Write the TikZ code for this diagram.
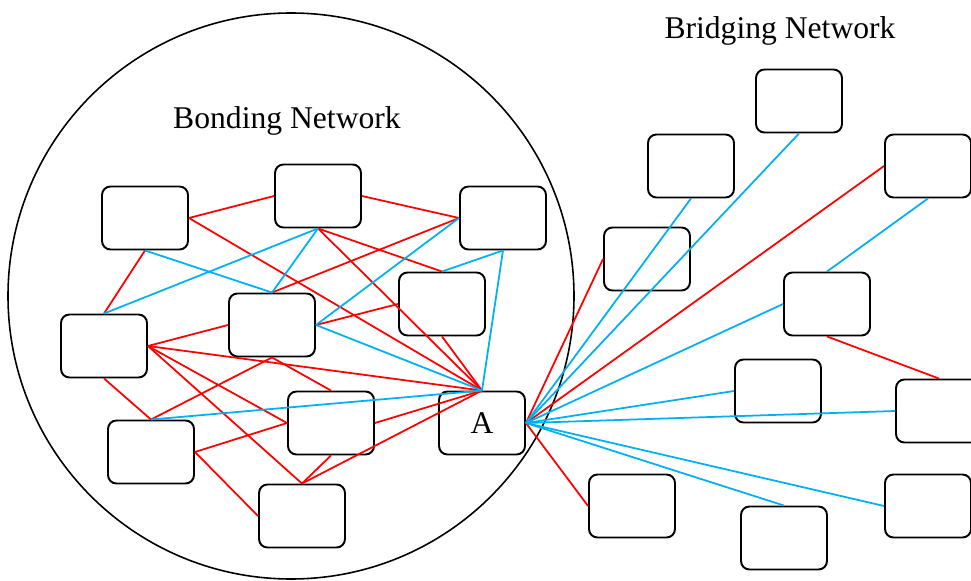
\documentclass[tikz,border=0pt]{standalone}
\usepackage{fontspec}
\setmainfont{Liberation Serif}
\usepackage{tikz}
\usetikzlibrary{positioning,calc}
\usepackage{xcolor}
\definecolor{bondred}{HTML}{FF0000}
\definecolor{bridgeblue}{HTML}{00B0F0}

\begin{document}
\begin{tikzpicture}[x=0.02cm, y=-0.02cm,
    person/.style={draw, line width=1.1pt, rounded corners=0.17cm, minimum width=1.72cm, minimum height=1.26cm, inner sep=0pt, font=\fontsize{18}{20}\selectfont},
    bond/.style={draw=bondred, line width=1pt},
    bridge/.style={draw=bridgeblue, line width=1pt},
    title/.style={font=\fontsize{18}{20}\selectfont}]
  \useasboundingbox (0,0) rectangle (971,581);
  \draw[line width=0.9pt] (291,296) circle (283);
  \node[title] (bondlabel) at (287,121) {Bonding Network};
  \node[title] (bridgelabel) at (780,31) {Bridging Network};
  % bonding network
  \node[person] (b1) at (145,218) {};
  \node[person] (b2) at (318,196) {};
  \node[person] (b3) at (503,218) {};
  \node[person] (b4) at (272,325) {};
  \node[person] (b5) at (442,304) {};
  \node[person] (b6) at (104,346) {};
  \node[person] (b7) at (151,452) {};
  \node[person] (b8) at (331,423) {};
  \node[person] (b9) at (302,516) {};
  \node[person] (a) at (482,423) {A};
  % bridging network
  \node[person] (r1) at (799,101) {};
  \node[person] (r2) at (691,166) {};
  \node[person] (r3) at (928,166) {};
  \node[person] (r4) at (647,259) {};
  \node[person] (r5) at (827,304) {};
  \node[person] (r6) at (778,391) {};
  \node[person] (r7) at (939,411) {};
  \node[person] (r8) at (632,506) {};
  \node[person] (r9) at (784,538) {};
  \node[person] (r10) at (928,506) {};
  % strong ties
  \draw[bond] (b1.east) -- (b2.west);
  \draw[bond] (b1.east) -- (a.north);
  \draw[bond] (b1.south) -- (b6.north);
  \draw[bond] (b2.east) -- (b3.west);
  \draw[bond] (b2.south) -- (b5.north);
  \draw[bond] (b2.south) -- (a.north);
  \draw[bond] (b4.north) -- (b3.west);
  \draw[bond] (b4.east) -- (b5.west);
  \draw[bond] (b5.south) -- (a.north);
  \draw[bond] (b6.east) -- (b4.west);
  \draw[bond] (b6.east) -- (a.north);
  \draw[bond] (b6.east) -- (b8.west);
  \draw[bond] (b6.east) -- (b9.north);
  \draw[bond] (b6.south) -- (b7.north);
  \draw[bond] (b4.south) -- (b7.north);
  \draw[bond] (b4.south) -- (b8.north);
  \draw[bond] (b7.east) -- (b8.west);
  \draw[bond] (b7.east) -- (b9.west);
  \draw[bond] (b8.south) -- (b9.north);
  \draw[bond] (b8.east) -- (a.north);
  \draw[bond] (b9.north) -- (a.north);
  \draw[bridge] (b1.south) -- (b4.north);
  \draw[bridge] (b2.south) -- (b6.north);
  \draw[bridge] (b2.south) -- (b4.north);
  \draw[bridge] (b3.west) -- (b4.east);
  \draw[bridge] (b3.south) -- (b5.north);
  \draw[bridge] (b3.south) -- (a.north);
  \draw[bridge] (b4.east) -- (a.north);
  \draw[bridge] (b7.north) -- (a.north);
  % weak ties
  \draw[bond] (a.east) -- (r4.west);
  \draw[bond] (a.east) -- (r3.west);
  \draw[bond] (a.east) -- (r8.west);
  \draw[bridge] (a.east) -- (r2.south);
  \draw[bridge] (a.east) -- (r1.south);
  \draw[bridge] (a.east) -- (r5.west);
  \draw[bridge] (a.east) -- (r6.west);
  \draw[bridge] (a.east) -- (r7.west);
  \draw[bridge] (a.east) -- (r10.west);
  \draw[bridge] (a.east) -- (r9.north);
  \draw[bridge] (r3.south) -- (r5.north);
  \draw[bond] (r5.south) -- (r7.north);
\end{tikzpicture}
\end{document}
